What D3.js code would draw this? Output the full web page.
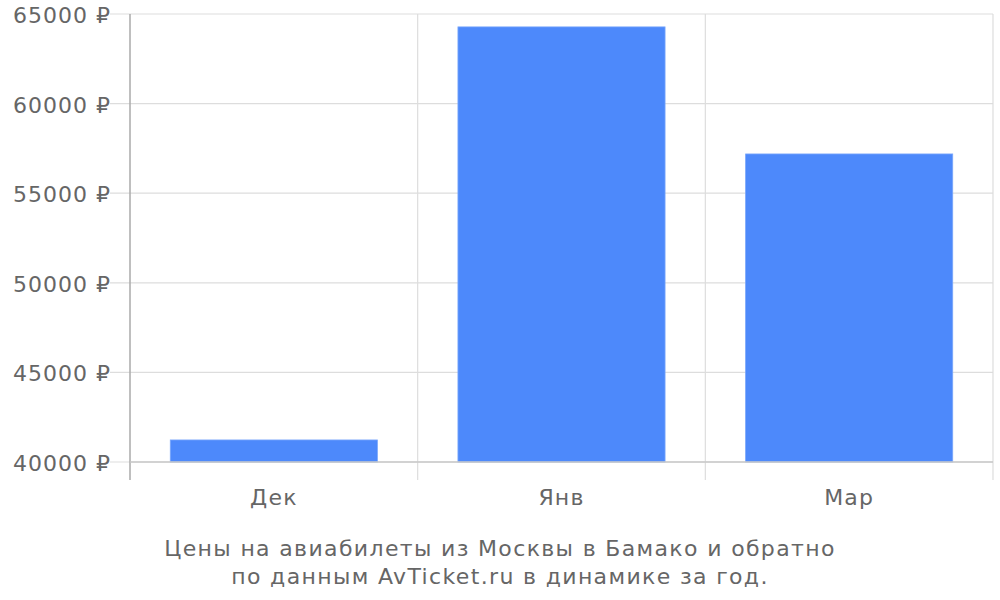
<!DOCTYPE html>
<html><head><meta charset="utf-8">
<script src="https://cdn.jsdelivr.net/npm/d3@7"></script>
<style>body{margin:0;background:#fff;} svg{display:block;font-family:"DejaVu Sans",sans-serif;}</style>
</head><body>
<svg id="c" width="1000" height="600"></svg>
<script>
const categories = ["Дек", "Янв", "Мар"];
const values = [41230, 64280, 57190];
const yTicks = [40000, 45000, 50000, 55000, 60000, 65000];
const titleLines = ["Цены на авиабилеты из Москвы в Бамако и обратно", "по данным AvTicket.ru в динамике за год."];

const svg = d3.select("#c");
const L = 130, R = 993, T = 14, B = 462;
const x = d3.scaleBand().domain(categories).range([L, R]).paddingInner(0.28).paddingOuter(0.14);
const y = d3.scaleLinear().domain([40000, 65000]).range([B, T]);
const grid = "#dddddd", txt = "#666666";

svg.append("g").selectAll("line").data(yTicks).join("line")
  .attr("x1", L - 20).attr("x2", R).attr("y1", d => y(d)).attr("y2", d => y(d))
  .attr("stroke", grid).attr("stroke-width", 1.2);
const edges = categories.map(c => x(c) - x.step()*x.paddingInner()/2).slice(1).concat([R]);
svg.append("g").selectAll("line").data(edges).join("line")
  .attr("x1", d => d).attr("x2", d => d).attr("y1", T).attr("y2", B + 18)
  .attr("stroke", grid).attr("stroke-width", 1.2);

svg.append("g").selectAll("rect").data(values).join("rect")
  .attr("x", (d, i) => x(categories[i])).attr("width", x.bandwidth())
  .attr("y", d => y(d)).attr("height", d => B - y(d))
  .attr("fill", "#4d89fb").attr("stroke", "#79a6fb").attr("stroke-width", 0.8);

svg.append("line").attr("x1", L).attr("x2", L).attr("y1", T).attr("y2", B + 18).attr("stroke", "#aaaaaa").attr("stroke-width", 1.5);
svg.append("line").attr("x1", L).attr("x2", R).attr("y1", B).attr("y2", B).attr("stroke", "#c8c8c8").attr("stroke-width", 1.5);

svg.append("g").selectAll("text").data(yTicks).join("text")
  .attr("x", 111).attr("y", d => y(d) + 9)
  .attr("text-anchor", "end").attr("font-size", 22).attr("letter-spacing", 1).attr("fill", txt)
  .text(d => d + " ₽");

svg.append("g").selectAll("text").data(categories).join("text")
  .attr("x", d => x(d) + x.bandwidth()/2).attr("y", 505)
  .attr("text-anchor", "middle").attr("font-size", 22).attr("letter-spacing", 1.2).attr("fill", txt)
  .text(d => d);

svg.append("g").selectAll("text").data(titleLines).join("text")
  .attr("x", 500).attr("y", (d, i) => 556 + i * 28)
  .attr("text-anchor", "middle").attr("font-size", 22).attr("letter-spacing", 1.35).attr("fill", txt)
  .text(d => d);
</script>
</body></html>
